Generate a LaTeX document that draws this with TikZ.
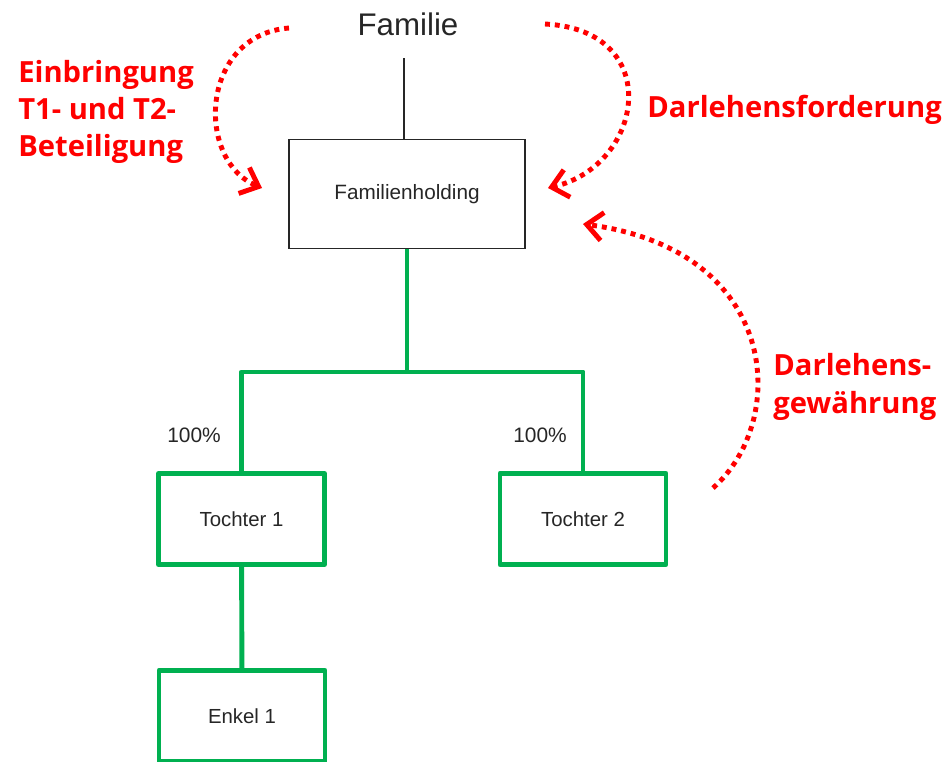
\documentclass[tikz,border=0pt]{standalone}
\usepackage{fontspec}
\setmainfont{Liberation Sans}
\newfontfamily\flowfont{Open Sans}
\usetikzlibrary{arrows.meta}
\definecolor{boxgreen}{RGB}{0,176,80}
\definecolor{inkgray}{RGB}{38,38,38}

\begin{document}
\begin{tikzpicture}[x=0.02cm, y=-0.02cm,
		holdbox/.style={draw=inkgray, line width=1.1pt, minimum width=4.72cm, minimum height=2.18cm, inner sep=0pt, text=inkgray, font=\fontsize{11.8}{14}\selectfont},
		subbox/.style={draw=boxgreen, line width=2.8pt, line join=round, minimum width=3.32cm, minimum height=1.82cm, inner sep=0pt, text=inkgray, font=\fontsize{11.6}{14}\selectfont},
		share/.style={text=inkgray, inner sep=0pt, font=\fontsize{11.9}{14}\selectfont},
		owner/.style={boxgreen, line width=2.8pt, line join=round},
		flow/.style={red, line width=2.8pt, dash pattern=on 2.8pt off 2.8pt, -{Straight Barb[length=9pt,width=16pt]}},
		flowtext/.style={red, inner sep=0pt, align=left, font=\flowfont\bfseries\fontsize{16.6}{21.2}\selectfont}]
		\useasboundingbox (0,0) rectangle (949,761);
		% Gesellschaften
		\node[text=inkgray, minimum height=1.36cm, inner sep=0pt, font=\fontsize{17.8}{20}\selectfont] (familie) at (408,24) {Familie};
		\node[holdbox] (holding) at (407,194) {Familienholding};
		\node[subbox] (t1) at (241.5,519) {Tochter 1};
		\node[subbox] (t2) at (583,519) {Tochter 2};
		\node[subbox] (e1) at (242,716) {Enkel 1};
		% Beteiligungen
		\draw[inkgray, line width=1.1pt] ([xshift=-0.08cm]familie.south) -- ([xshift=-0.08cm]familie.south |- holding.north);
		\coordinate (bus) at (407,372);
		\draw[owner] (holding) -- (bus);
		\draw[owner] (t1.north) |- (bus) -| (t2.north);
		\draw[owner] (t1) -- (e1);
		\node[share] (s1) at (194,435) {100\%};
		\node[share] (s2) at (540,435) {100\%};
		% Zahlungsfluesse
		\coordinate (in1) at (289,28);
		\coordinate (out1) at (262,188);
		\coordinate (in2) at (545,24);
		\coordinate (out2) at (548,188);
		\coordinate (in3) at (713,488);
		\coordinate (out3) at (583,224);
		\draw[flow] (in1) .. controls (200,35) and (195,160) .. (out1);
		\draw[flow] (in2) .. controls (665,30) and (645,165) .. (out2);
		\draw[flow] (in3) .. controls (790,420) and (780,250) .. (out3);
		\node[flowtext, anchor=west] (einbr) at (18,112) {Einbringung\\T1- und T2-\\Beteiligung};
		\node[flowtext, anchor=base west] (dforder) at (647,117) {Darlehensforderung};
		\node[flowtext, anchor=west] (dgewaehr) at (773,387) {Darlehens-\\gew\"ahrung};
	\end{tikzpicture}
\end{document}
